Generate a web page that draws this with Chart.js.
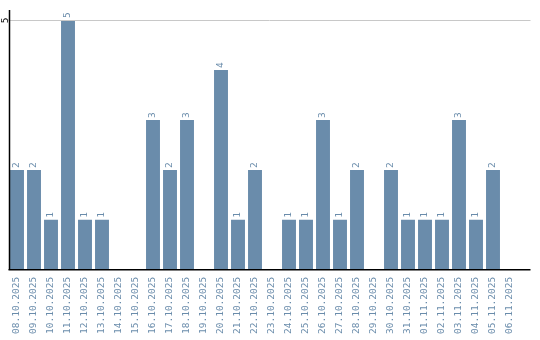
<!DOCTYPE html>
<html><head><meta charset="utf-8">
<script src="https://cdn.jsdelivr.net/npm/chart.js@4/dist/chart.umd.min.js"></script>
<style>html,body{margin:0;padding:0;background:#fff}#wrap{width:540px;height:340px}</style>
</head><body><div id="wrap"><canvas id="c" width="540" height="340"></canvas></div>
<script>
const categories = ["08.10.2025","09.10.2025","10.10.2025","11.10.2025","12.10.2025","13.10.2025","14.10.2025","15.10.2025","16.10.2025","17.10.2025","18.10.2025","19.10.2025","20.10.2025","21.10.2025","22.10.2025","23.10.2025","24.10.2025","25.10.2025","26.10.2025","27.10.2025","28.10.2025","29.10.2025","30.10.2025","31.10.2025","01.11.2025","02.11.2025","03.11.2025","04.11.2025","05.11.2025","06.11.2025"];
const values = [2,2,1,5,1,1,0,0,3,2,3,0,4,1,2,0,1,1,3,1,2,0,2,1,1,1,3,1,2,0];
const yTicks = [5];

const BLUE = '#6a8cab';
const FONT = '"DejaVu Sans Mono", monospace';

const decor = {
  id: 'decor',
  afterDatasetsDraw(chart) {
    const ctx = chart.ctx, ca = chart.chartArea;
    const x = chart.scales.x, y = chart.scales.y;
    const extRight = ca.right + 12;
    ctx.save();
    ctx.strokeStyle = '#c8c8c8'; ctx.lineWidth = 1;
    yTicks.forEach(v => {
      const py = Math.round(y.getPixelForValue(v)) + 0.5;
      ctx.beginPath(); ctx.moveTo(ca.left, py); ctx.lineTo(extRight, py); ctx.stroke();
      ctx.save();
      ctx.translate(8, py); ctx.rotate(-Math.PI/2);
      ctx.fillStyle = '#000'; ctx.font = '9.5px ' + FONT;
      ctx.textAlign = 'center'; ctx.textBaseline = 'alphabetic';
      ctx.fillText(String(v), 0, 0);
      ctx.restore();
    });
    ctx.strokeStyle = '#000';
    ctx.lineWidth = 1.5;
    ctx.beginPath(); ctx.moveTo(ca.left + 1, ca.top); ctx.lineTo(ca.left + 1, ca.bottom); ctx.stroke();
    ctx.beginPath(); ctx.moveTo(ca.left, ca.bottom); ctx.lineTo(extRight, ca.bottom); ctx.stroke();
    ctx.fillStyle = BLUE; ctx.font = '9.5px ' + FONT;
    ctx.textAlign = 'left'; ctx.textBaseline = 'middle';
    const meta = chart.getDatasetMeta(0);
    meta.data.forEach((bar, i) => {
      const v = values[i];
      if (!v) return;
      ctx.save();
      ctx.translate(bar.x, y.getPixelForValue(v) - 2);
      ctx.rotate(-Math.PI/2);
      ctx.fillText(String(v), 0, 0);
      ctx.restore();
    });
    ctx.restore();
  }
};

new Chart(document.getElementById('c'), {
  type: 'bar',
  data: { labels: categories, datasets: [{ data: values, backgroundColor: BLUE, borderWidth: 0, categoryPercentage: 1, barPercentage: 0.82 }] },
  options: {
    responsive: false, animation: false,
    layout: { padding: { left: 8.5, right: 21.5, top: 10, bottom: -1 } },
    plugins: { legend: { display: false }, tooltip: { enabled: false } },
    scales: {
      x: {
        grid: { display: false, drawTicks: false }, border: { display: false },
        ticks: { color: BLUE, font: { family: FONT, size: 9.5 }, minRotation: 90, maxRotation: 90, padding: 7, autoSkip: false }
      },
      y: { display: false, min: 0, max: 5.2 }
    }
  },
  plugins: [decor]
});
</script></body></html>
